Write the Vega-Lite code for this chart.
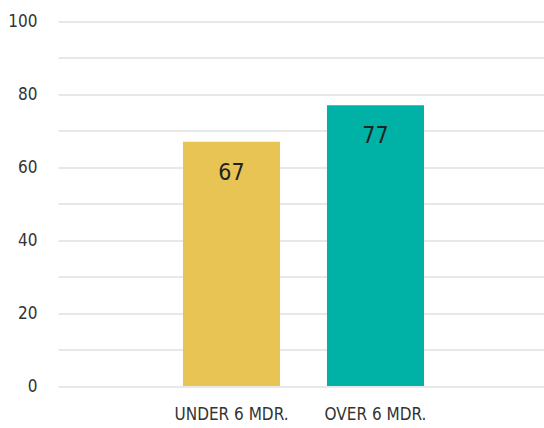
{
  "$schema": "https://vega.github.io/schema/vega-lite/v6.json",
  "autosize": {"type": "none"},
  "padding": {"left": 58, "top": 21.5, "right": 0, "bottom": 42},
  "width": 491,
  "height": 364.5,
  "background": "white",
  "config": {"view": {"stroke": null}},
  "data": {"values": [
    {"group": "UNDER 6 MDR.", "value": 67},
    {"group": "OVER 6 MDR.", "value": 77}
  ]},
  "encoding": {
    "x": {"field": "group", "type": "nominal", "sort": null,
      "scale": {"paddingInner": 0.326, "paddingOuter": 0.868},
      "axis": {"title": null, "labelAngle": 0, "domain": false, "ticks": false, "labelPadding": 20,
        "labelFont": "DejaVu Sans Condensed", "labelFontSize": 17, "labelColor": "#333333"}},
    "y": {"field": "value", "type": "quantitative",
      "scale": {"domain": [0, 100], "nice": false},
      "axis": {"title": null, "values": [0,10,20,30,40,50,60,70,80,90,100], "labelExpr": "datum.value % 20 === 0 ? datum.label : ''",
        "domain": false, "ticks": false, "labelPadding": 21, "gridColor": "#d2d2d2", "gridWidth": 1.2,
        "labelFont": "DejaVu Sans Condensed", "labelFontSize": 17, "labelColor": "#333333"}}
  },
  "layer": [
    {"mark": {"type": "bar"},
     "encoding": {"color": {"field": "group", "type": "nominal", "legend": null,
       "scale": {"domain": ["UNDER 6 MDR.", "OVER 6 MDR."], "range": ["#E8C454", "#00B2A6"]}}}},
    {"mark": {"type": "text", "dy": 38, "baseline": "alphabetic", "font": "DejaVu Sans Condensed", "fontSize": 23, "color": "#222222"},
     "encoding": {"text": {"field": "value", "type": "quantitative"}}}
  ]
}
